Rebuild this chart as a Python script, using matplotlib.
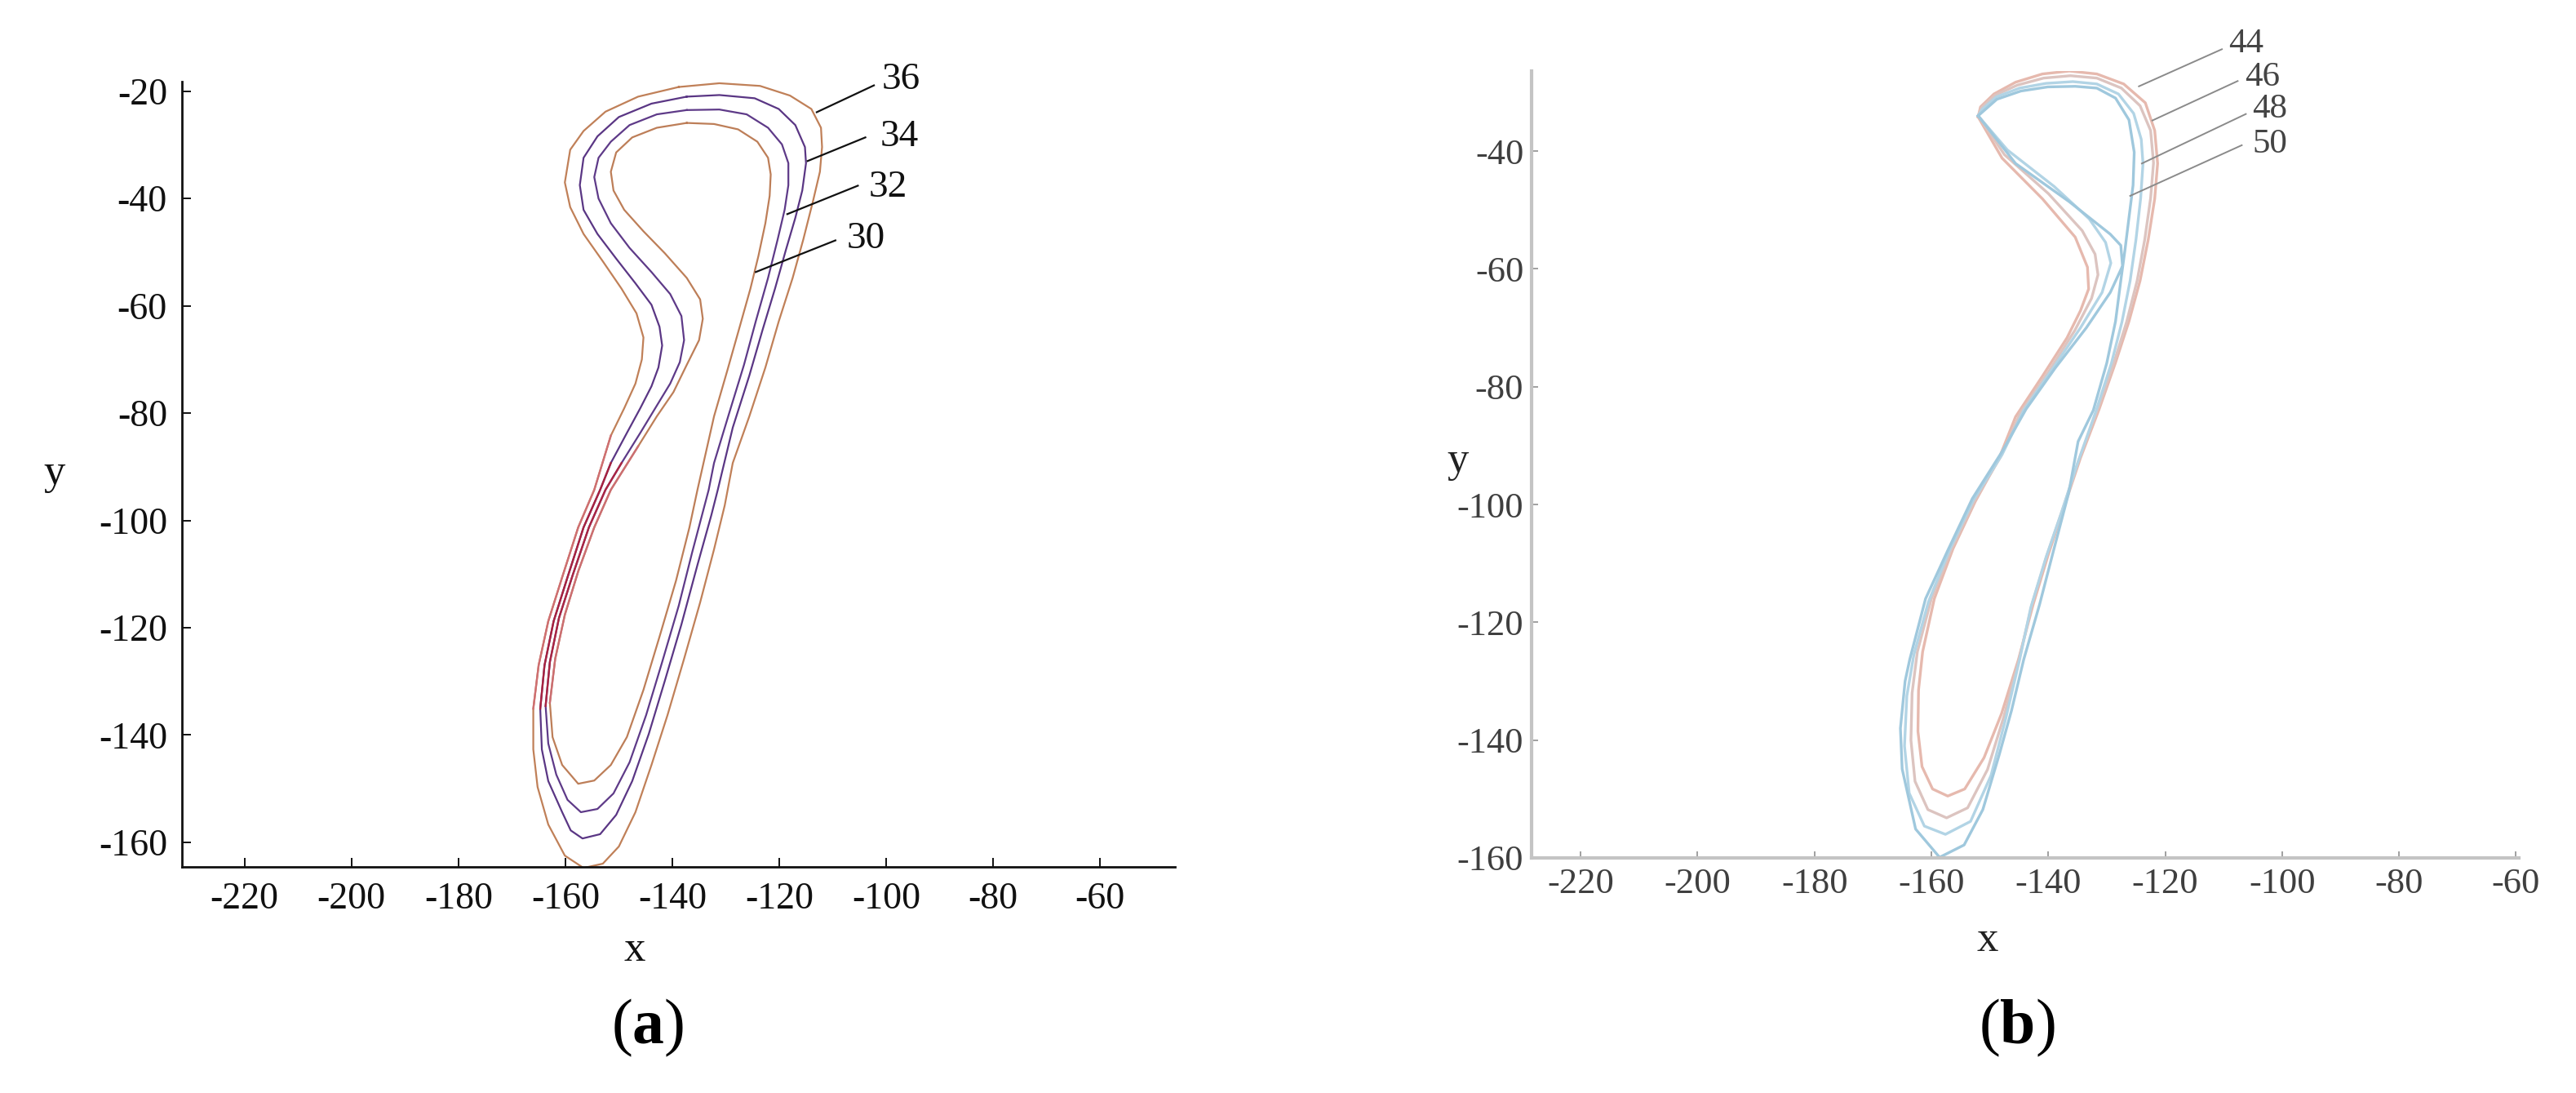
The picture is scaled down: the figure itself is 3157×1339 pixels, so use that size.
import matplotlib
matplotlib.use("Agg")
import matplotlib.pyplot as plt
import numpy as np
from matplotlib.ticker import FuncFormatter

plt.rcParams["font.family"] = ["Liberation Serif", "DejaVu Serif"]
plt.rcParams["mathtext.fontset"] = "custom"
plt.rcParams["mathtext.rm"] = "Liberation Serif"
plt.rcParams["mathtext.bf"] = "Liberation Serif:bold"

# ---- panel (a): limit cycles (x, y) ----
CYCLE_A36 = np.array([
    (-138.8, -19.2), (-131.2, -18.5), (-123.6, -19.0), (-118.0, -20.8), (-114.0, -23.3),
    (-112.2, -26.8), (-112.0, -30.4), (-112.4, -35.0), (-113.7, -40.5), (-115.5, -47.6),
    (-117.5, -54.8), (-120.1, -62.9), (-122.6, -71.5), (-125.6, -80.6), (-128.7, -89.3),
    (-130.2, -97.2), (-132.2, -105.4), (-134.8, -115.3), (-137.8, -125.8), (-140.9, -136.3),
    (-143.9, -145.6), (-146.9, -154.4), (-150.0, -160.8), (-153.0, -164.0), (-156.6, -164.8),
    (-160.1, -162.5), (-163.2, -156.7), (-165.2, -149.7), (-166.0, -142.7), (-166.0, -135.1),
    (-165.0, -127.0), (-163.2, -118.8), (-160.6, -110.6), (-157.6, -101.3), (-154.6, -94.3),
    (-151.5, -84.2), (-149.0, -79.1), (-146.9, -74.5), (-145.7, -70.0), (-145.4, -65.9),
    (-146.7, -61.4), (-149.5, -56.8), (-153.0, -51.7), (-156.6, -46.6), (-159.1, -41.6),
    (-160.1, -37.0), (-159.1, -30.9), (-156.6, -27.4), (-152.5, -23.8), (-146.4, -21.0),
    (-138.8, -19.2),
])
CYCLE_A34 = np.array([
    (-137.3, -21.0), (-131.2, -20.7), (-124.6, -21.3), (-120.1, -23.3), (-117.0, -26.3),
    (-115.2, -30.4), (-115.0, -33.4), (-115.7, -38.5), (-117.0, -43.6), (-118.8, -49.7),
    (-120.8, -56.8), (-123.1, -64.4), (-125.6, -73.0), (-128.7, -82.7), (-131.5, -94.3),
    (-132.7, -99.0), (-135.3, -108.3), (-138.3, -119.4), (-141.4, -129.9), (-144.4, -139.8),
    (-147.5, -148.6), (-150.5, -154.9), (-153.5, -158.5), (-156.8, -159.3), (-159.0, -157.8),
    (-160.6, -154.4), (-163.2, -148.6), (-164.4, -142.7), (-164.7, -135.1), (-163.9, -127.0),
    (-162.2, -118.8), (-159.6, -110.6), (-156.6, -101.3), (-153.5, -94.3), (-151.5, -89.3),
    (-148.5, -83.7), (-146.0, -79.1), (-143.9, -75.0), (-142.6, -71.5), (-141.9, -67.4),
    (-142.4, -63.9), (-143.9, -59.8), (-146.9, -55.8), (-150.5, -51.2), (-154.0, -46.6),
    (-156.6, -42.1), (-157.3, -37.5), (-156.6, -32.4), (-154.0, -28.4), (-150.0, -24.8),
    (-143.9, -22.3), (-137.3, -21.0),
])
CYCLE_A32 = np.array([
    (-137.3, -23.5), (-131.2, -23.4), (-126.1, -24.3), (-122.1, -26.8), (-119.5, -29.9),
    (-118.3, -33.4), (-118.3, -37.5), (-119.0, -42.1), (-120.3, -47.6), (-122.1, -54.8),
    (-124.4, -62.9), (-126.6, -71.0), (-129.4, -80.1), (-132.2, -89.3), (-133.2, -94.3),
    (-136.3, -106.0), (-138.8, -115.9), (-141.9, -126.4), (-144.9, -136.3), (-148.0, -145.1),
    (-151.0, -150.9), (-154.0, -153.8), (-157.1, -154.4), (-159.6, -152.1), (-161.7, -147.4),
    (-163.2, -141.6), (-163.7, -134.6), (-162.9, -126.4), (-161.2, -118.2), (-158.6, -110.1),
    (-155.6, -101.3), (-152.5, -94.3), (-149.5, -89.3), (-146.0, -83.7), (-142.9, -78.6),
    (-140.4, -74.5), (-138.6, -70.5), (-137.8, -66.4), (-138.3, -61.9), (-140.4, -57.8),
    (-143.9, -53.7), (-148.0, -49.2), (-151.5, -44.6), (-153.8, -40.0), (-154.6, -36.0),
    (-153.8, -32.4), (-151.5, -29.4), (-148.0, -26.3), (-142.9, -24.3), (-137.3, -23.5),
])
CYCLE_A30 = np.array([
    (-137.3, -25.9), (-132.2, -26.1), (-127.7, -27.1), (-124.1, -29.4), (-122.1, -32.4),
    (-121.6, -35.5), (-121.8, -39.5), (-122.6, -44.6), (-123.9, -50.7), (-125.4, -56.8),
    (-127.4, -63.9), (-129.7, -72.0), (-132.2, -80.6), (-135.3, -94.3), (-136.8, -101.3),
    (-139.3, -111.2), (-142.4, -121.7), (-145.4, -131.6), (-148.5, -140.4), (-151.5, -145.6),
    (-154.6, -148.5), (-157.6, -149.1), (-160.6, -145.6), (-162.4, -140.4), (-162.9, -134.0),
    (-161.9, -125.8), (-160.1, -117.6), (-157.6, -109.5), (-154.6, -101.3), (-151.5, -94.3),
    (-146.4, -86.2), (-142.9, -80.6), (-139.8, -76.1), (-137.3, -71.0), (-135.0, -66.4),
    (-134.3, -62.4), (-134.8, -58.8), (-137.3, -54.8), (-141.4, -50.2), (-145.4, -46.1),
    (-149.0, -42.1), (-151.0, -38.5), (-151.5, -35.0), (-150.5, -31.4), (-147.5, -28.6),
    (-142.9, -26.8), (-137.3, -25.9),
])

# ---- panel (b) ----
CYCLE_B44 = np.array([
    (-152.0, -34.2), (-151.6, -32.5), (-149.3, -30.3), (-145.6, -28.3), (-141.0, -26.9),
    (-136.4, -26.4), (-131.7, -26.9), (-127.1, -28.6), (-123.4, -31.8), (-121.8, -36.5),
    (-121.3, -42.1), (-121.8, -48.1), (-122.9, -55.0), (-124.3, -62.0), (-126.2, -68.9),
    (-128.5, -75.9), (-131.3, -83.8), (-134.5, -92.1), (-137.5, -101.0), (-140.0, -108.5),
    (-142.6, -117.0), (-145.1, -126.3), (-148.0, -135.5), (-151.0, -143.0), (-154.3, -148.3),
    (-157.2, -149.5), (-159.8, -148.3), (-161.6, -144.5), (-162.3, -138.5), (-162.2, -131.5),
    (-161.5, -125.0), (-159.5, -116.0), (-156.3, -107.5), (-152.5, -99.5), (-148.4, -92.1),
    (-145.6, -85.1), (-141.0, -78.2), (-136.8, -71.7), (-134.5, -67.1), (-133.1, -63.4),
    (-133.3, -59.7), (-135.4, -54.6), (-141.0, -48.1), (-147.9, -41.2), (-152.0, -34.2),
])
CYCLE_B46 = np.array([
    (-152.0, -34.0), (-151.4, -32.6), (-149.1, -30.5), (-145.3, -28.8), (-140.8, -27.6),
    (-136.2, -27.2), (-131.7, -27.6), (-127.5, -29.3), (-124.3, -32.3), (-122.5, -36.5),
    (-122.0, -42.0), (-122.5, -48.0), (-123.5, -55.0), (-124.8, -62.0), (-126.6, -69.0),
    (-128.8, -76.0), (-131.6, -84.0), (-134.8, -92.5), (-137.6, -101.0), (-140.2, -108.5),
    (-142.8, -117.0), (-145.0, -126.3), (-147.6, -136.0), (-150.4, -145.0), (-153.8, -151.5),
    (-157.4, -153.2), (-160.6, -151.8), (-162.8, -147.0), (-163.5, -140.0), (-163.3, -132.0),
    (-162.4, -125.0), (-160.0, -116.0), (-156.6, -107.6), (-152.6, -99.3), (-148.1, -91.8),
    (-144.8, -84.5), (-140.0, -77.5), (-135.5, -70.5), (-132.6, -65.0), (-131.5, -61.0),
    (-132.0, -57.5), (-134.2, -53.5), (-140.0, -47.2), (-147.5, -40.6), (-152.0, -34.0),
])
CYCLE_B48 = np.array([
    (-152.0, -34.0), (-151.3, -32.9), (-148.9, -30.8), (-144.9, -29.3), (-140.4, -28.5),
    (-135.8, -28.2), (-131.7, -28.6), (-128.0, -30.3), (-125.4, -33.6), (-124.1, -38.0),
    (-123.8, -42.1), (-124.2, -48.0), (-125.0, -55.0), (-126.0, -62.0), (-127.4, -69.0),
    (-129.2, -76.0), (-131.8, -84.0), (-135.0, -93.0), (-137.8, -101.5), (-140.4, -109.0),
    (-143.0, -117.5), (-144.9, -126.3), (-147.2, -136.0), (-149.8, -146.0), (-153.3, -153.8),
    (-157.6, -156.0), (-161.2, -154.6), (-163.8, -149.0), (-164.6, -141.0), (-164.2, -132.5),
    (-163.0, -125.5), (-160.5, -116.5), (-156.9, -107.7), (-152.8, -99.2), (-147.9, -91.5),
    (-144.2, -84.0), (-139.3, -77.0), (-134.5, -70.0), (-130.8, -64.0), (-129.3, -59.0),
    (-130.2, -55.5), (-133.0, -51.5), (-139.0, -46.0), (-147.0, -39.8), (-152.0, -34.0),
])
CYCLE_B50 = np.array([
    (-152.0, -34.0), (-151.2, -33.3), (-148.8, -31.2), (-144.7, -29.8), (-140.1, -29.1),
    (-135.4, -29.0), (-131.7, -29.3), (-128.5, -31.0), (-126.2, -34.7), (-125.3, -40.2),
    (-125.5, -45.8), (-126.2, -51.3), (-126.9, -56.9), (-127.6, -62.0), (-128.5, -68.9),
    (-130.0, -76.0), (-132.3, -84.0), (-134.9, -89.3), (-136.5, -98.0), (-139.1, -107.8),
    (-141.5, -117.0), (-144.2, -126.3), (-146.3, -135.0), (-148.4, -142.5), (-151.2, -151.8),
    (-154.4, -157.8), (-158.6, -159.9), (-162.7, -155.1), (-165.0, -144.9), (-165.3, -138.0),
    (-164.5, -130.0), (-163.7, -126.3), (-161.0, -116.0), (-157.2, -107.8), (-153.0, -99.0),
    (-147.9, -91.0), (-143.8, -83.8), (-138.8, -76.8), (-133.5, -70.0), (-129.4, -64.0),
    (-127.3, -59.5), (-127.6, -56.0), (-129.4, -54.1), (-136.4, -48.6), (-145.6, -42.1),
    (-152.0, -34.0),
])

LABELS_A = ["36", "34", "32", "30"]
LABELS_B = ["44", "46", "48", "50"]
X_TICKS = [-220, -200, -180, -160, -140, -120, -100, -80, -60]
Y_TICKS_A = [-160, -140, -120, -100, -80, -60, -40, -20]
Y_TICKS_B = [-160, -140, -120, -100, -80, -60, -40]

# label text positions and leader lines (data units)
LABEL_XY_A = [(-97.3, -17.9), (-97.6, -28.5), (-99.6, -38.0), (-103.8, -47.6)]
LEADER_A = [((-113.0, -23.9), (-102.3, -18.9)),
            ((-114.7, -33.0), (-103.9, -28.6)),
            ((-118.5, -42.9), (-105.3, -37.6)),
            ((-124.4, -53.7), (-109.5, -47.8))]
LABEL_XY_B = [(-106.2, -21.8), (-103.4, -27.5), (-102.1, -32.9), (-102.1, -38.8)]
LEADER_B = [((-124.5, -29.0), (-110.3, -22.7)),
            ((-122.2, -34.8), (-107.6, -28.1)),
            ((-124.0, -42.1), (-106.2, -33.7)),
            ((-126.0, -47.6), (-106.9, -39.0))]

COLORS_A = ["#c08058", "#5a3684", "#5e3a88", "#bd7e58"]
# where the four cycles of (a) bunch together on the left, the lines render reddish
BUNDLE_COLORS_A = ["#cf6f72", "#a8233f", "#ab2642", "#cc6e72"]
BUNDLE_Y_RANGE = (-136.0, -84.0)
COLORS_B = ["#e6b9ae", "#dcc4c0", "#b2d4e5", "#9fc8dd"]


def neg_fmt(v, _pos):
    return f"-{abs(int(round(v)))}"


def style_axes(ax, spine_color, spine_lw, tick_color, label_color, size, padx, pady, ticklen):
    for side in ("top", "right"):
        ax.spines[side].set_visible(False)
    for side in ("left", "bottom"):
        ax.spines[side].set_color(spine_color)
        ax.spines[side].set_linewidth(spine_lw)
    ax.xaxis.set_major_formatter(FuncFormatter(neg_fmt))
    ax.yaxis.set_major_formatter(FuncFormatter(neg_fmt))
    ax.tick_params(direction="in", length=ticklen, width=1.4, color=tick_color,
                   labelcolor=label_color, labelsize=size)
    ax.tick_params(axis="x", pad=padx)
    ax.tick_params(axis="y", pad=pady)
    ax.set_facecolor("none")


def left_bundle(cyc, y_lo, y_hi):
    # rising (left) branch after the lowest point, limited to the y band
    bottom = int(np.argmin(cyc[:, 1]))
    part = cyc[bottom:]
    keep = (part[:, 1] >= y_lo) & (part[:, 1] <= y_hi)
    return part[keep]


fig = plt.figure(figsize=(31.57, 13.39), dpi=100)

# (a)
ax_a = fig.add_axes([0.07064, 0.20687, 0.38549, 0.71845])
for cyc, col, red in zip([CYCLE_A36, CYCLE_A34, CYCLE_A32, CYCLE_A30], COLORS_A, BUNDLE_COLORS_A):
    ax_a.plot(cyc[:, 0], cyc[:, 1], color=col, lw=1.6, solid_joinstyle="round")
    seg = left_bundle(cyc, *BUNDLE_Y_RANGE)
    ax_a.plot(seg[:, 0], seg[:, 1], color=red, lw=1.7, solid_joinstyle="round")
ax_a.set_xlim(-231.7, -46)
ax_a.set_ylim(-164.6, -18.2)
ax_a.set_xticks(X_TICKS)
ax_a.set_yticks(Y_TICKS_A)
style_axes(ax_a, "#111111", 2.0, "#111111", "#111111", 33, 13, 13, 8)
for txt, (tx, ty), (p0, p1) in zip(LABELS_A, LABEL_XY_A, LEADER_A):
    ax_a.plot([p0[0], p1[0]], [p0[1], p1[1]], color="#111111", lw=1.6, clip_on=False)
    ax_a.text(tx, ty, txt, fontsize=34, ha="center", va="center", color="#111111")

# (b)
ax_b = fig.add_axes([0.59455, 0.21509, 0.38327, 0.71994])
for cyc, col in zip([CYCLE_B44, CYCLE_B46, CYCLE_B48, CYCLE_B50], COLORS_B):
    ax_b.plot(cyc[:, 0], cyc[:, 1], color=col, lw=2.4, solid_joinstyle="round")
ax_b.set_xlim(-228.4, -59.5)
ax_b.set_ylim(-160, -26.4)
ax_b.set_xticks(X_TICKS)
ax_b.set_yticks(Y_TICKS_B)
style_axes(ax_b, "#c4c4c4", 3.0, "#a0a0a0", "#3f3f3f", 32, 9, 7, 6)
for txt, (tx, ty), (p0, p1) in zip(LABELS_B, LABEL_XY_B, LEADER_B):
    ax_b.plot([p0[0], p1[0]], [p0[1], p1[1]], color="#8a8a8a", lw=1.4, clip_on=False)
    ax_b.text(tx, ty, txt, fontsize=31, ha="center", va="center", color="#444444")

# axis names and panel tags
fig.text(0.2464, 0.1307, "x", fontsize=38, ha="center", va="center", color="#111111")
fig.text(0.0210, 0.5668, "y", fontsize=38, ha="center", va="center", color="#111111")
fig.text(0.7716, 0.1397, "x", fontsize=38, ha="center", va="center", color="#222222")
fig.text(0.5660, 0.5780, "y", fontsize=38, ha="center", va="center", color="#222222")
fig.text(0.2515, 0.0597, r"($\mathbf{a}$)", fontsize=56, ha="center", va="center")
fig.text(0.7830, 0.0597, r"($\mathbf{b}$)", fontsize=56, ha="center", va="center")

fig.savefig("out.png", dpi=100, facecolor="white")
